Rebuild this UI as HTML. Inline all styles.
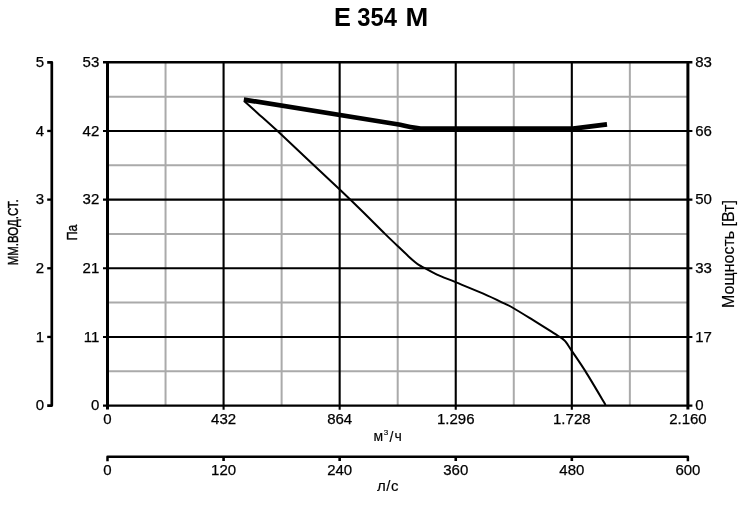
<!DOCTYPE html>
<html><head><meta charset="utf-8"><style>
html,body{margin:0;padding:0;background:#fff;}
body{width:750px;height:508px;overflow:hidden;position:relative;}
svg{position:absolute;left:0;top:0;will-change:transform;}
text{font-family:"Liberation Sans",sans-serif;fill:#000;stroke:#000;stroke-width:0.25px;}
</style></head><body>
<svg width="750" height="508" viewBox="0 0 750 508">
<rect width="750" height="508" fill="#fff"/>
<line x1="165.54" y1="62.3" x2="165.54" y2="405.6" stroke="#aaa" stroke-width="2"/>
<line x1="281.62" y1="62.3" x2="281.62" y2="405.6" stroke="#aaa" stroke-width="2"/>
<line x1="397.70" y1="62.3" x2="397.70" y2="405.6" stroke="#aaa" stroke-width="2"/>
<line x1="513.78" y1="62.3" x2="513.78" y2="405.6" stroke="#aaa" stroke-width="2"/>
<line x1="629.86" y1="62.3" x2="629.86" y2="405.6" stroke="#aaa" stroke-width="2"/>
<line x1="107.5" y1="96.63" x2="687.9" y2="96.63" stroke="#aaa" stroke-width="2"/>
<line x1="107.5" y1="165.29" x2="687.9" y2="165.29" stroke="#aaa" stroke-width="2"/>
<line x1="107.5" y1="233.95" x2="687.9" y2="233.95" stroke="#aaa" stroke-width="2"/>
<line x1="107.5" y1="302.61" x2="687.9" y2="302.61" stroke="#aaa" stroke-width="2"/>
<line x1="107.5" y1="371.27" x2="687.9" y2="371.27" stroke="#aaa" stroke-width="2"/>
<line x1="223.58" y1="62.3" x2="223.58" y2="409.8" stroke="#000" stroke-width="2.1"/>
<line x1="339.66" y1="62.3" x2="339.66" y2="409.8" stroke="#000" stroke-width="2.1"/>
<line x1="455.74" y1="62.3" x2="455.74" y2="409.8" stroke="#000" stroke-width="2.1"/>
<line x1="571.82" y1="62.3" x2="571.82" y2="409.8" stroke="#000" stroke-width="2.1"/>
<line x1="103.0" y1="130.96" x2="692.4" y2="130.96" stroke="#000" stroke-width="2.1"/>
<line x1="103.0" y1="199.62" x2="692.4" y2="199.62" stroke="#000" stroke-width="2.1"/>
<line x1="103.0" y1="268.28" x2="692.4" y2="268.28" stroke="#000" stroke-width="2.1"/>
<line x1="103.0" y1="336.94" x2="692.4" y2="336.94" stroke="#000" stroke-width="2.1"/>
<line x1="103.0" y1="62.3" x2="692.4" y2="62.3" stroke="#000" stroke-width="2.4"/>
<line x1="103.0" y1="405.6" x2="692.4" y2="405.6" stroke="#000" stroke-width="2.4"/>
<line x1="107.5" y1="61.099999999999994" x2="107.5" y2="409.6" stroke="#000" stroke-width="3"/>
<line x1="687.9" y1="61.099999999999994" x2="687.9" y2="409.6" stroke="#000" stroke-width="3"/>
<path fill="none" stroke="#000" stroke-width="2.7" stroke-linejoin="round" d="M 47.199999999999996 62.30 L 51.8 62.30 L 51.8 405.60 L 47.199999999999996 405.60"/>
<line x1="47.199999999999996" y1="130.96" x2="51.8" y2="130.96" stroke="#000" stroke-width="2.3"/>
<line x1="47.199999999999996" y1="199.62" x2="51.8" y2="199.62" stroke="#000" stroke-width="2.3"/>
<line x1="47.199999999999996" y1="268.28" x2="51.8" y2="268.28" stroke="#000" stroke-width="2.3"/>
<line x1="47.199999999999996" y1="336.94" x2="51.8" y2="336.94" stroke="#000" stroke-width="2.3"/>
<path fill="none" stroke="#000" stroke-width="2.5" stroke-linejoin="round" d="M 107.50 461.2 L 107.50 456.8 L 687.90 456.8 L 687.90 461.2"/>
<line x1="223.58" y1="456.8" x2="223.58" y2="461.0" stroke="#000" stroke-width="2.6"/>
<line x1="339.66" y1="456.8" x2="339.66" y2="461.0" stroke="#000" stroke-width="2.6"/>
<line x1="455.74" y1="456.8" x2="455.74" y2="461.0" stroke="#000" stroke-width="2.6"/>
<line x1="571.82" y1="456.8" x2="571.82" y2="461.0" stroke="#000" stroke-width="2.6"/>
<path fill="none" stroke="#000" stroke-width="4.7" stroke-linejoin="round" d="M 243.8 99.6 L 397.3 124.2 C 405 125.5 413 128.5 425 128.7 L 573 128.6 L 607 124.3"/>
<path fill="none" stroke="#000" stroke-width="2" stroke-linejoin="round" d="M 244.4 101.2 C 246.57 103.15 251.97 108.00 257.4 112.9 C 262.83 117.80 268.57 122.80 277 130.6 C 285.43 138.40 297.50 149.83 308 159.7 C 318.50 169.57 331.00 181.25 340 189.8 C 349.00 198.35 354.50 203.65 362 211 C 369.50 218.35 379.20 228.20 385 233.9 C 390.80 239.60 392.87 241.45 396.8 245.2 C 400.73 248.95 405.58 253.62 408.6 256.4 C 411.62 259.18 413.07 260.40 414.9 261.9 C 416.73 263.40 417.92 264.35 419.6 265.4 C 421.28 266.45 422.10 266.67 425 268.2 C 427.90 269.73 431.90 272.27 437 274.6 C 442.10 276.93 447.88 279.02 455.6 282.2 C 463.32 285.38 475.12 290.12 483.3 293.7 C 491.48 297.28 499.72 301.32 504.7 303.7 C 509.68 306.08 508.58 305.33 513.2 308 C 517.82 310.67 526.35 315.97 532.4 319.7 C 538.45 323.43 544.80 327.45 549.5 330.4 C 554.20 333.35 558.18 335.80 560.6 337.4 C 563.02 339.00 563.02 339.10 564 340 C 564.98 340.90 565.28 341.12 566.5 342.8 C 567.72 344.48 568.13 345.33 571.3 350.1 C 574.47 354.87 579.78 362.25 585.5 371.4 C 591.22 380.55 602.25 399.40 605.6 405"/>
<text x="44.10" y="66.90" text-anchor="end" font-size="15" >5</text>
<text x="99.30" y="66.90" text-anchor="end" font-size="15" >53</text>
<text x="695.20" y="66.90" text-anchor="start" font-size="15" >83</text>
<text x="44.10" y="135.56" text-anchor="end" font-size="15" >4</text>
<text x="99.30" y="135.56" text-anchor="end" font-size="15" >42</text>
<text x="695.20" y="135.56" text-anchor="start" font-size="15" >66</text>
<text x="44.10" y="204.22" text-anchor="end" font-size="15" >3</text>
<text x="99.30" y="204.22" text-anchor="end" font-size="15" >32</text>
<text x="695.20" y="204.22" text-anchor="start" font-size="15" >50</text>
<text x="44.10" y="272.88" text-anchor="end" font-size="15" >2</text>
<text x="99.30" y="272.88" text-anchor="end" font-size="15" >21</text>
<text x="695.20" y="272.88" text-anchor="start" font-size="15" >33</text>
<text x="44.10" y="341.54" text-anchor="end" font-size="15" >1</text>
<text x="99.30" y="341.54" text-anchor="end" font-size="15" >11</text>
<text x="695.20" y="341.54" text-anchor="start" font-size="15" >17</text>
<text x="44.10" y="410.20" text-anchor="end" font-size="15" >0</text>
<text x="99.30" y="410.20" text-anchor="end" font-size="15" >0</text>
<text x="695.20" y="410.20" text-anchor="start" font-size="15" >0</text>
<text x="107.50" y="424.00" text-anchor="middle" font-size="15" >0</text>
<text x="107.50" y="474.60" text-anchor="middle" font-size="15" >0</text>
<text x="223.58" y="424.00" text-anchor="middle" font-size="15" >432</text>
<text x="223.58" y="474.60" text-anchor="middle" font-size="15" >120</text>
<text x="339.66" y="424.00" text-anchor="middle" font-size="15" >864</text>
<text x="339.66" y="474.60" text-anchor="middle" font-size="15" >240</text>
<text x="455.74" y="424.00" text-anchor="middle" font-size="15" >1.296</text>
<text x="455.74" y="474.60" text-anchor="middle" font-size="15" >360</text>
<text x="571.82" y="424.00" text-anchor="middle" font-size="15" >1.728</text>
<text x="571.82" y="474.60" text-anchor="middle" font-size="15" >480</text>
<text x="687.90" y="424.00" text-anchor="middle" font-size="15" >2.160</text>
<text x="687.90" y="474.60" text-anchor="middle" font-size="15" >600</text>
<text x="373.60" y="441.30" text-anchor="start" font-size="14" style="stroke-width:0.15px">м</text>
<text x="383.80" y="434.60" text-anchor="start" font-size="8" style="stroke-width:0.15px">3</text>
<text x="389.40" y="442.00" text-anchor="start" font-size="14" style="stroke-width:0.15px">/</text>
<text x="394.60" y="441.30" text-anchor="start" font-size="14" style="stroke-width:0.15px">ч</text>
<text x="388.00" y="491.00" text-anchor="middle" font-size="15" style="stroke-width:0.15px;letter-spacing:0.6px">л/с</text>
<text x="0.00" y="0.00" text-anchor="start" font-size="25.3" font-weight="bold" style="stroke-width:0" transform="translate(334.1,25.6)">E</text>
<text x="0.00" y="0.00" text-anchor="start" font-size="25.3" font-weight="bold" style="stroke-width:0" transform="translate(357.3,25.6) scale(0.94,1)">354</text>
<text x="0.00" y="0.00" text-anchor="start" font-size="25.3" font-weight="bold" style="stroke-width:0" transform="translate(405.4,25.6) scale(1.08,1)">M</text>
<text x="0.00" y="0.00" text-anchor="middle" font-size="14" transform="translate(17.9,232.3) rotate(-90) scale(0.82,1)" style="stroke-width:0.4px">ММ.ВОД.СТ.</text>
<text x="0.00" y="0.00" text-anchor="middle" font-size="14.5" transform="translate(77,232.6) rotate(-90) scale(0.84,1)" style="stroke-width:0.4px">Па</text>
<text x="0.00" y="0.00" text-anchor="middle" font-size="16" transform="translate(734,254) rotate(-90)" style="stroke-width:0.15px">Мощность [Вт]</text>
</svg>
</body></html>
